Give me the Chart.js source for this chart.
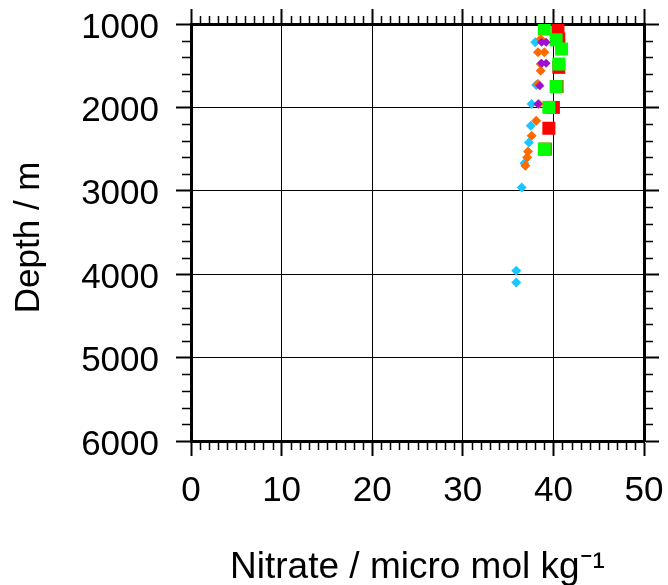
<!DOCTYPE html>
<html>
<head>
<meta charset="utf-8">
<script src="https://cdn.jsdelivr.net/npm/chart.js@4/dist/chart.umd.min.js"></script>
<style>
  html, body { margin: 0; padding: 0; background: #fff; }
  #wrap { width: 668px; height: 585px; }
</style>
</head>
<body>
<div id="wrap"><canvas id="chart" width="668" height="585"></canvas></div>
<script>
const xTicks = [0, 10, 20, 30, 40, 50];
const depthTicks = [1000, 2000, 3000, 4000, 5000, 6000];

const redNitrate = [40.5, 40.6, 40.6, 40.4, 40.0, 39.5, 39.1];
const redDepth = [1070, 1180, 1520, 1750, 2000, 2250, 2500];

const greenNitrate = [39.0, 40.3, 40.9, 40.6, 40.3, 39.5, 39.0];
const greenDepth = [1060, 1190, 1300, 1480, 1750, 2000, 2500];

const orangeNitrate = [38.6, 38.3, 39.0, 38.6, 38.6, 38.3, 38.4, 38.1, 37.6, 37.2, 37.1, 36.9];
const orangeDepth = [1180, 1340, 1340, 1480, 1560, 1720, 1960, 2160, 2340, 2530, 2600, 2700];

const cyanNitrate = [38.0, 38.1, 37.6, 37.5, 37.3, 36.8, 36.5, 35.9, 35.9];
const cyanDepth = [1220, 1730, 1960, 2220, 2420, 2670, 2960, 3960, 4100];

const purpleNitrate = [38.7, 39.2, 38.7, 39.2, 38.5, 38.3];
const purpleDepth = [1220, 1220, 1470, 1470, 1740, 1960];

function pairs(xs, ys) {
  return xs.map((v, i) => ({ x: v, y: ys[i] }));
}

const font = { family: "'Liberation Sans', Arial, sans-serif", size: 35 };
const titleFont = { family: "'Liberation Sans', Arial, sans-serif", size: 37 };

// small outside ticks between the labelled ones
const minorTicks = {
  id: "minorTicks",
  afterDraw(chart) {
    const { ctx, chartArea: a, scales } = chart;
    const x = scales.x, y = scales.y;
    ctx.save();
    ctx.strokeStyle = "#000";
    ctx.lineWidth = 1.5;
    ctx.beginPath();
    for (let v = 0; v <= 50; v++) {
      if (v % 10 === 0) continue;
      const px = Math.round(x.getPixelForValue(v)) + 0.5;
      ctx.moveTo(px, a.bottom); ctx.lineTo(px, a.bottom + 9);
      ctx.moveTo(px, a.top); ctx.lineTo(px, a.top - 8);
    }
    for (let v = 1000; v <= 6000; v += 200) {
      if (v % 1000 === 0) continue;
      const py = Math.round(y.getPixelForValue(v)) + 0.5;
      ctx.moveTo(a.left, py); ctx.lineTo(a.left - 9, py);
      ctx.moveTo(a.right, py); ctx.lineTo(a.right + 9, py);
    }
    ctx.stroke();
    ctx.restore();
  },
};

const majorGrid = {
  color: "#000",
  lineWidth: 1,
  tickLength: 15,
  tickWidth: 2,
  tickColor: "#000",
};

// fixed box sizes so the plot frame lands where the reference has it
function fixBox(size) {
  return (s) => {
    if (s.isHorizontal()) s.height = size; else s.width = size;
    s.paddingLeft = s.paddingRight = s.paddingTop = s.paddingBottom = 0;
  };
}

// first dataset is drawn on top
new Chart(document.getElementById("chart"), {
  type: "scatter",
  data: {
    datasets: [
      { label: "purple", data: pairs(purpleNitrate, purpleDepth), backgroundColor: "#9c10d0", pointStyle: "rectRot", pointRadius: 4.5, borderWidth: 0 },
      { label: "orange", data: pairs(orangeNitrate, orangeDepth), backgroundColor: "#ff6a00", pointStyle: "rectRot", pointRadius: 5, borderWidth: 0 },
      { label: "cyan", data: pairs(cyanNitrate, cyanDepth), backgroundColor: "#18c8ff", pointStyle: "rectRot", pointRadius: 5, borderWidth: 0 },
      { label: "green", data: pairs(greenNitrate, greenDepth), backgroundColor: "#00ff00", pointStyle: "rect", pointRadius: 9.2, borderWidth: 0 },
      { label: "red", data: pairs(redNitrate, redDepth), backgroundColor: "#ff0000", pointStyle: "rect", pointRadius: 9.2, borderWidth: 0 },
    ],
  },
  options: {
    responsive: false,
    animation: false,
    layout: { padding: 0 },
    plugins: { legend: { display: false }, tooltip: { enabled: false } },
    elements: { point: { hoverRadius: 0 } },
    scales: {
      x: {
        position: "bottom",
        min: 0, max: 50,
        afterBuildTicks: (s) => { s.ticks = xTicks.map((v) => ({ value: v })); },
        afterFit: fixBox(144),
        grid: majorGrid,
        border: { color: "#000", width: 3 },
        ticks: { color: "#000", font, padding: 14, maxRotation: 0, callback: (v) => String(v) },
        title: { display: true, text: "Nitrate / micro mol kg\u207B\u00B9", color: "#000", font: titleFont, padding: { top: 0, bottom: -5 } },
      },
      x2: {
        position: "top",
        min: 0, max: 50,
        afterBuildTicks: (s) => { s.ticks = xTicks.map((v) => ({ value: v })); },
        afterFit: fixBox(24),
        grid: { ...majorGrid, drawOnChartArea: false },
        border: { color: "#000", width: 3 },
        ticks: { display: false },
      },
      y: {
        position: "left",
        reverse: true,
        min: 1000, max: 6000,
        afterBuildTicks: (s) => { s.ticks = depthTicks.map((v) => ({ value: v })); },
        afterFit: fixBox(191),
        grid: majorGrid,
        border: { color: "#000", width: 3 },
        ticks: { color: "#000", font, padding: 17, labelOffset: 4, callback: (v) => String(v) },
        title: { display: true, text: "Depth / m ", color: "#000", font, padding: { top: 8, bottom: 0 } },
      },
      y2: {
        position: "right",
        reverse: true,
        min: 1000, max: 6000,
        afterBuildTicks: (s) => { s.ticks = depthTicks.map((v) => ({ value: v })); },
        afterFit: fixBox(24),
        grid: { ...majorGrid, drawOnChartArea: false },
        border: { color: "#000", width: 3 },
        ticks: { display: false },
      },
    },
  },
  plugins: [minorTicks],
});
</script>
</body>
</html>
